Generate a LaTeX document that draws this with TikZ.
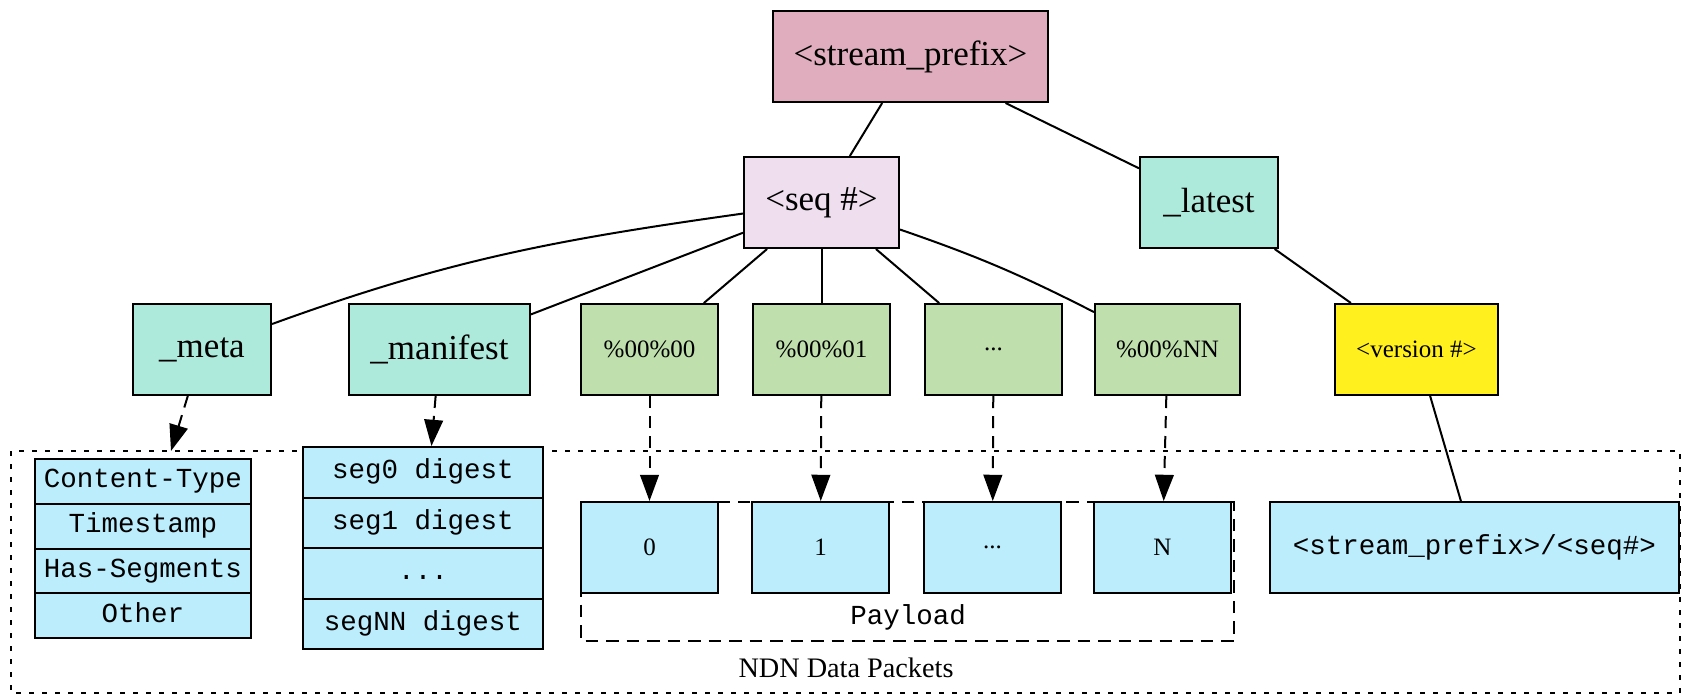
\documentclass[tikz,border=0pt]{standalone}
\usepackage{fontspec}
\setmainfont{Liberation Serif}
\setmonofont{Liberation Mono}[WordSpace={1,0,0}]
\usetikzlibrary{arrows.meta,shapes.multipart}

\definecolor{rootcolor}{RGB}{223,173,189}
\definecolor{seqcolor}{RGB}{238,222,238}
\definecolor{namecolor}{RGB}{174,234,219}
\definecolor{segcolor}{RGB}{191,223,173}
\definecolor{versioncolor}{RGB}{255,240,30}
\definecolor{packetcolor}{RGB}{187,237,252}
\newcommand{\cellgap}{\hspace{0.6em}}

\begin{document}
\begin{tikzpicture}[x=0.4pt,y=0.4pt,
        box/.style={draw,line width=0.8pt,inner sep=0pt,minimum height=36.4pt},
        bigtext/.style={font=\fontsize{14}{16}\selectfont},
        smalltext/.style={font=\fontsize{10}{12}\selectfont},
        monotext/.style={font=\ttfamily\fontsize{11}{13}\selectfont},
        branch/.style={line width=0.8pt},
        pointer/.style={line width=0.8pt,dash pattern=on 4.8pt off 3.2pt,
            -{Triangle[length=10.5pt,width=7.5pt]}},
        fieldtable/.style={rectangle split,rectangle split parts=4,draw,
            line width=0.8pt,fill=packetcolor,monotext,align=center,
            inner xsep=0pt}]
        \useasboundingbox (0,0) rectangle (1685,-696);

        % Clusters
        \draw[line width=0.8pt,dash pattern=on 2pt off 3.2pt] (11,-451) rectangle (1680,-693);
        \draw[line width=0.8pt,dash pattern=on 5pt off 3.2pt] (581,-502) rectangle (1234,-641);
        \node[font=\fontsize{11.3}{13}\selectfont] (ndnlabel) at (846,-668) {NDN Data Packets};
        \node[monotext] (payloadlabel) at (908,-617) {Payload};

        % Name tree
        \node[box,bigtext,fill=rootcolor,minimum width=110pt] (root) at (910.5,-56.5) {<stream\_prefix>};
        \node[box,bigtext,fill=seqcolor,minimum width=62pt] (seq) at (821.5,-202.5) {<seq \#>};
        \node[box,bigtext,fill=namecolor,minimum width=55.2pt] (latest) at (1209,-202.5) {\_latest};

        \node[box,bigtext,fill=namecolor,minimum width=55.2pt] (meta) at (202,-349.5) {\_meta};
        \node[box,bigtext,fill=namecolor,minimum width=72.4pt] (manifest) at (439.5,-349.5) {\_manifest};
        \node[box,smalltext,fill=segcolor,minimum width=54.8pt] (seg0) at (649.5,-349.5) {\%00\%00};
        \node[box,smalltext,fill=segcolor,minimum width=54.8pt] (seg1) at (821.5,-349.5) {\%00\%01};
        \node[box,smalltext,fill=segcolor,minimum width=54.8pt] (segdots) at (993.5,-349.5) {...};
        \node[box,smalltext,fill=segcolor,minimum width=58pt] (segNN) at (1167.5,-349.5) {\%00\%NN};
        \node[box,smalltext,fill=versioncolor,minimum width=65.2pt] (version) at (1416.5,-349.5) {<version \#>};

        % Data packets
        \node[fieldtable,text width=86.4pt,inner ysep=2.05pt] (metatable) at (143,-548.5)
            {\strut Content-Type\nodepart{two}\strut Timestamp\nodepart{three}\strut Has-Segments\nodepart{four}\strut Other};
        \node[fieldtable,text width=96pt,inner ysep=3.2pt] (mantable) at (423,-548)
            {\strut seg0\cellgap digest\nodepart{two}\strut seg1\cellgap digest\nodepart{three}\strut ...\nodepart{four}\strut segNN\cellgap digest};
        \node[box,smalltext,fill=packetcolor,minimum width=54.8pt] (pkt0) at (649.5,-547.5) {0};
        \node[box,smalltext,fill=packetcolor,minimum width=54.8pt] (pkt1) at (820.5,-547.5) {1};
        \node[box,smalltext,fill=packetcolor,minimum width=54.8pt] (pktdots) at (992.5,-547.5) {...};
        \node[box,smalltext,fill=packetcolor,minimum width=54.8pt] (pktN) at (1162.5,-547.5) {N};
        \node[box,monotext,fill=packetcolor,minimum width=163.6pt] (fullname) at (1474.5,-547.5) {<stream\_prefix>/<seq\#>};
        \coordinate (metatip) at (171,-451);

        % Tree edges
        \draw[branch] (root) -- (seq);
        \draw[branch] (root) -- (latest);
        \draw[branch] (seq) to[out=188,in=20] (meta);
        \draw[branch] (seq) -- (manifest);
        \draw[branch] (seq) -- (seg0);
        \draw[branch] (seq) -- (seg1);
        \draw[branch] (seq) -- (segdots);
        \draw[branch] (seq) to[out=-19,in=153] (segNN);
        \draw[branch] (latest) -- (version);
        \draw[branch] (version) -- (fullname);

        % Content pointers
        \draw[pointer] (meta) -- (metatip);
        \draw[pointer] (manifest) -- (mantable);
        \draw[pointer] (seg0) -- (pkt0);
        \draw[pointer] (seg1) -- (pkt1);
        \draw[pointer] (segdots) -- (pktdots);
        \draw[pointer] (segNN) -- (pktN);
\end{tikzpicture}
\end{document}
